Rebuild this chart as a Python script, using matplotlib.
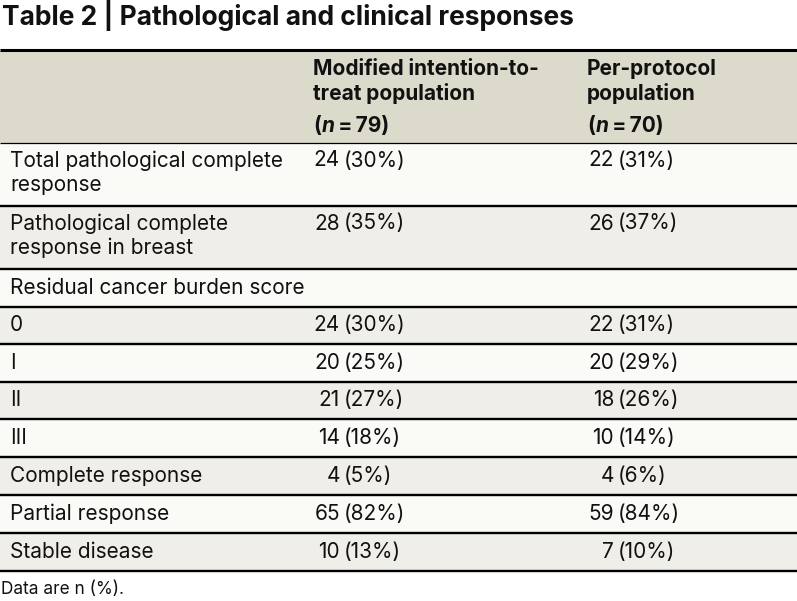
import matplotlib
matplotlib.use("Agg")
import matplotlib.pyplot as plt
from matplotlib.patches import Rectangle

title = "Table 2 | Pathological and clinical responses"
col_headers = [["Modified intention-to-", "treat population"], ["Per-protocol", "population"]]
col_n = ["79", "70"]
row_labels = [
    ["Total pathological complete", "response"],
    ["Pathological complete", "response in breast"],
    ["Residual cancer burden score"],
    ["0"], ["I"], ["II"], ["III"],
    ["Complete response"], ["Partial response"], ["Stable disease"],
]
mitt_n = [24, 28, None, 24, 20, 21, 14, 4, 65, 10]
mitt_pct = [30, 35, None, 30, 25, 27, 18, 5, 82, 13]
pp_n = [22, 26, None, 22, 20, 18, 10, 4, 59, 7]
pp_pct = [31, 37, None, 31, 29, 26, 14, 6, 84, 10]
footnote = "Data are n (%)."

W, H = 797, 601
fig = plt.figure(figsize=(W / 100, H / 100), dpi=100)
ax = fig.add_axes([0, 0, 1, 1])
ax.set_xlim(0, W)
ax.set_ylim(H, 0)
ax.axis("off")

FONT = "Inter"
BODY = 15.0
HEAD_BG = "#dcdacb"
ROW_BG = ["#fafaf6", "#efeee8"]
TXT = "#111111"

# layout
top_line = 49.5
header_bottom = 142.5
row_edges = [142.5, 205.5, 269, 306.5, 344, 381.5, 419, 457, 495, 533, 571]
col_x = [10, 313, 587]
paren_x = [344, 618]
line_h = 24.5

ax.text(2, 25, title, fontsize=19.0, fontweight="bold", family=FONT,
        va="baseline", ha="left", color=TXT)

ax.add_patch(Rectangle((0, top_line), W, header_bottom - top_line, color=HEAD_BG, lw=0))
for c in range(2):
    for i, t in enumerate(col_headers[c]):
        ax.text(col_x[c + 1], 69 + i * line_h, t, fontsize=BODY, fontweight="bold",
                family=FONT, va="center", ha="left", color=TXT)
    t1 = ax.text(col_x[c + 1], 126, "(", fontsize=BODY, fontweight="bold", family=FONT,
                 va="center", ha="left", color=TXT)
    t2 = ax.annotate("n", xy=(1, 0.5), xycoords=t1, xytext=(0.5, 0),
                     textcoords="offset points", fontsize=BODY, fontweight="bold",
                     style="italic", family=FONT, va="center", ha="left", color=TXT)
    ax.annotate("\u2009=\u2009" + col_n[c] + ")", xy=(1, 0.5), xycoords=t2,
                xytext=(0.5, 0), textcoords="offset points", fontsize=BODY,
                fontweight="bold", family=FONT, va="center", ha="left", color=TXT)

for r, lab in enumerate(row_labels):
    y0, y1 = row_edges[r], row_edges[r + 1]
    ax.add_patch(Rectangle((0, y0), W, y1 - y0, color=ROW_BG[r % 2], lw=0))
    if len(lab) == 1:
        ys = [(y0 + y1) / 2]
    else:
        ys = [y0 + 18 + i * line_h for i in range(len(lab))]
    for yy, t in zip(ys, lab):
        ax.text(col_x[0], yy, t, fontsize=BODY, family=FONT, va="center",
                ha="left", color=TXT)
    for c, (ns, ps) in enumerate([(mitt_n, mitt_pct), (pp_n, pp_pct)]):
        if ns[r] is None:
            continue
        ax.text(paren_x[c] - 4, ys[0], str(ns[r]), fontsize=BODY, family=FONT,
                va="center", ha="right", color=TXT)
        ax.text(paren_x[c], ys[0], f"({ps[r]}%)", fontsize=BODY, family=FONT,
                va="center", ha="left", color=TXT)

ax.plot([0, W], [top_line, top_line], color="#000000", lw=2.2, solid_capstyle="butt")
ax.plot([0, W], [header_bottom, header_bottom], color="#000000", lw=0.9,
        solid_capstyle="butt")
for y in row_edges[1:]:
    ax.plot([0, W], [y, y], color="#000000", lw=1.7, solid_capstyle="butt")

ax.text(1, 590, footnote, fontsize=12.4, family=FONT, va="center", ha="left",
        color=TXT)

fig.savefig("out.png", dpi=100)
